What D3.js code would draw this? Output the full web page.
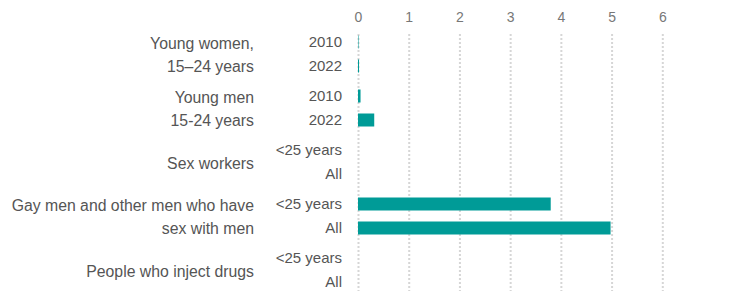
<!DOCTYPE html>
<html>
<head>
<meta charset="utf-8">
<script src="https://cdn.jsdelivr.net/npm/d3@7"></script>
<style>
    body { margin: 0; background: #fff; }
    svg { font-family: "Liberation Sans", Arial, sans-serif; }
</style>
</head>
<body>
<svg id="chart" width="737" height="291"></svg>
<script>
// data
var groups = ["Young women, 15–24 years", "Young men 15-24 years", "Sex workers",
    "Gay men and other men who have sex with men", "People who inject drugs"];
var groupLines = [["Young women,", "15–24 years"], ["Young men", "15-24 years"], ["Sex workers"],
    ["Gay men and other men who have", "sex with men"], ["People who inject drugs"]];
var subLabels = [["2010", "2022"], ["2010", "2022"], ["<25 years", "All"],
    ["<25 years", "All"], ["<25 years", "All"]];
var values = [[0.01, 0.02], [0.05, 0.32], [0, 0], [3.8, 4.98], [0, 0]];
var ticks = [0, 1, 2, 3, 4, 5, 6];

var svg = d3.select("#chart");
var width = 737, height = 291;

var x = d3.scaleLinear().domain([0, 6]).range([358, 662.3]);

var y0 = d3.scaleBand()
    .domain(d3.range(groups.length))
    .range([27, 297]);

var y1 = d3.scalePoint()
    .domain([0, 1])
    .range([0, y0.bandwidth()])
    .padding(0.625);

var barH = 13;

// grid lines
var grid = svg.append("g")
    .attr("transform", "translate(0,34)")
    .call(d3.axisBottom(x).tickValues(ticks).tickSize(height - 34).tickFormat(""));
grid.select(".domain").remove();
grid.selectAll("line")
    .attr("stroke", "#d6d6d6")
    .attr("stroke-width", 2)
    .attr("stroke-dasharray", "2,2");

// top tick labels
var topAxis = svg.append("g")
    .attr("transform", "translate(0,22)")
    .call(d3.axisTop(x).tickValues(ticks).tickSize(0).tickPadding(0).tickFormat(d3.format("d")));
topAxis.select(".domain").remove();
topAxis.selectAll("text")
    .attr("fill", "#777")
    .style("font-size", "14px")
    .style("font-family", "Liberation Sans, Arial, sans-serif");

// bars
var rows = [];
values.forEach(function (vals, gi) {
    vals.forEach(function (v, si) {
        rows.push({ g: gi, s: si, v: v, label: subLabels[gi][si] });
    });
});

svg.selectAll(".bar")
    .data(rows)
    .enter().append("rect")
    .attr("class", "bar")
    .attr("x", x(0))
    .attr("y", function (d) { return y0(d.g) + y1(d.s) - barH / 2; })
    .attr("width", function (d) { return x(d.v) - x(0); })
    .attr("height", barH)
    .attr("fill", "#009b97");

// sub labels (years / age)
svg.selectAll(".sub")
    .data(rows)
    .enter().append("text")
    .attr("class", "sub")
    .attr("x", 342)
    .attr("y", function (d) { return y0(d.g) + y1(d.s); })
    .attr("dy", "0.35em")
    .attr("text-anchor", "end")
    .attr("fill", "#555")
    .style("font-size", "15px")
    .text(function (d) { return d.label; });

// group labels
var lineH = 23;
var gl = svg.selectAll(".grp")
    .data(groupLines)
    .enter().append("text")
    .attr("class", "grp")
    .attr("text-anchor", "end")
    .attr("fill", "#555")
    .style("font-size", "15.8px");

gl.selectAll("tspan")
    .data(function (d, i) {
        return d.map(function (t, j) { return { t: t, j: j, n: d.length, g: i }; });
    })
    .enter().append("tspan")
    .attr("x", 254)
    .attr("y", function (d) {
        return y0(d.g) + y0.bandwidth() / 2 + 1 + (d.j - (d.n - 1) / 2) * lineH;
    })
    .attr("dy", "0.35em")
    .text(function (d) { return d.t; });
</script>
</body>
</html>
